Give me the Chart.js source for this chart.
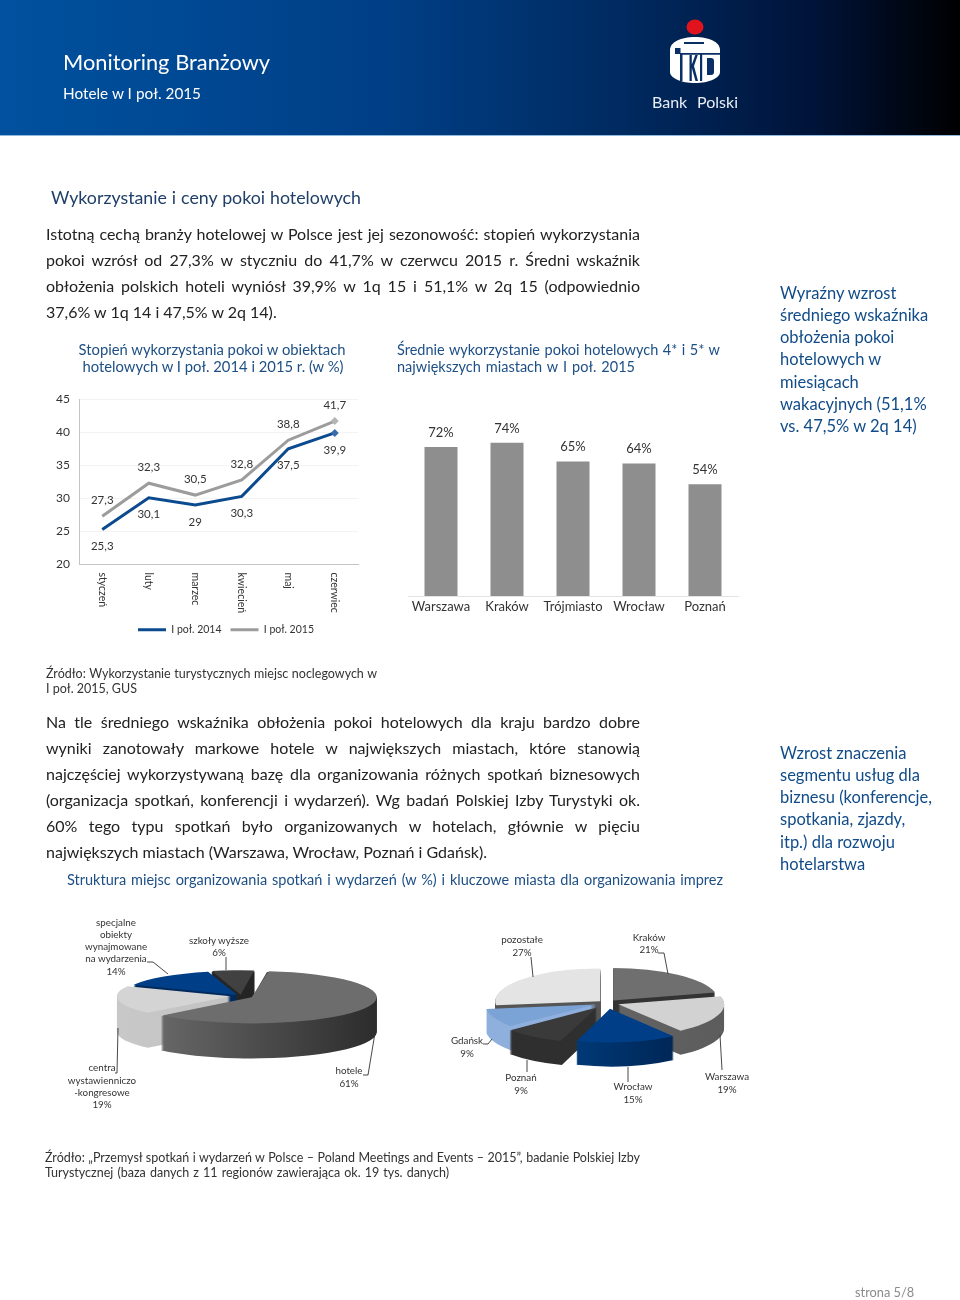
<!DOCTYPE html>
<html lang="pl">
<head>
<meta charset="utf-8">
<title>Monitoring Branżowy</title>
<script src="https://cdn.jsdelivr.net/npm/chart.js@4"></script>
<style>
html,body{margin:0;padding:0;background:#fff}
#page{position:relative;width:960px;height:1300px;overflow:hidden;font-family:Lato,sans-serif}
#head{position:absolute;left:0;top:0;width:960px;height:135px;background:linear-gradient(90deg,#00519f 0%,#003f86 40%,#002a60 65%,#001338 85%,#000 100%);border-bottom:1px solid #8fb8dc}
.t{position:absolute;white-space:nowrap;line-height:1;z-index:5}
.j{text-align-last:justify}
canvas{position:absolute;display:block}
#lines,#logo{position:absolute;left:0;top:0}
</style>
</head>
<body>
<div id="page">
  <div id="head"></div>
  <svg id="logo" width="960" height="135" viewBox="0 0 960 135">
    <ellipse cx="695" cy="27" rx="8.500" ry="7.500" fill="#e1141e"/>
    <path d="M670 50C670 42 681 37 695 37s25 5 25 13V72c0 6-11 11-25 11s-25-5-25-11Z" fill="#fff"/>
    <g fill="#0a2f66">
      <rect x="684" y="42" width="20" height="2"/>
      <path d="M675 48h5.500v5H720v1.800H682.500V81h-2.500V54h-5Z"/>
      <path d="M700 54h2.200v27H700Z"/>
      <path d="M689.500 55h2.300v9.500l3.500-9.500h2.500l-3.800 11 4 15h-2.500l-3.700-13v13h-2.300Z"/>
      <path d="M707 58h4c2 0 3 1 3 3v11c0 2-1 3-3 3h-4Z"/>
    </g>
  </svg>
  <svg id="lines" width="960" height="1300" viewBox="0 0 960 1300" style="z-index:4">
    <g fill="none" stroke="#333" stroke-width="0.9">
      <polyline points="147,962 153,962 168,974"/>
      <polyline points="226,957 226,970"/>
      <polyline points="118,1028 117,1073 115,1073"/>
      <polyline points="375,1033 368,1075 363,1075"/>
      <polyline points="658,953 664,953 668,974"/>
      <polyline points="531,957 533,977"/>
      <polyline points="720,1035 722,1070"/>
      <polyline points="628,1067 628,1082"/>
      <polyline points="527,1060 527,1072"/>
      <polyline points="483,1044 488,1044 492,1039"/>
    </g>
  </svg>
  <canvas id="lineChart" width="370" height="262" style="left:40px;top:383px"></canvas>
  <canvas id="barChart" width="350" height="240" style="left:398px;top:380px"></canvas>
  <canvas id="venuePie" width="400" height="400" style="left:41px;top:796px"></canvas>
  <canvas id="cityPie" width="400" height="400" style="left:407px;top:803px"></canvas>
</div>
<script>
// line chart data
var months = ["styczeń","luty","marzec","kwiecień","maj","czerwiec"];
var series2014 = [25.3,30.1,29,30.3,37.5,39.9];
var series2015 = [27.3,32.3,30.5,32.8,38.8,41.7];
var yTicks = [20,25,30,35,40,45];

// bar chart data
var cities = ["Warszawa","Kraków","Trójmiasto","Wrocław","Poznań"];
var cityOccupancy = [72,74,65,64,54];

// pies
var venues = ["hotele","centra wystawienniczo-kongresowe","specjalne obiekty","szkoły wyższe"];
var venueShare = [61,19,14,6];
var eventCities = ["Kraków","Warszawa","Wrocław","Poznań","Gdańsk","pozostałe"];
var eventShare = [21,19,15,9,9,27];

var BLUE = "#0b4a8e", GREY = "#9c9c9c", INK = "#333";
var FONT = "Lato, sans-serif";
var page = document.getElementById("page");

function txt(x, y, s, size, color, width, align) {
	var d = document.createElement("div");
	d.className = "t";
	d.textContent = s;
	d.style.fontSize = size + "px";
	d.style.color = color;
	d.style.top = (y - size / 2) + "px";
	if (align === "center") {
		d.style.left = (x - 250) + "px";
		d.style.width = "500px";
		d.style.textAlign = "center";
	} else {
		d.style.left = x + "px";
		if (width) { d.style.width = width + "px"; d.className = "t j"; }
	}
	page.appendChild(d);
}

// header
txt(63, 62, "Monitoring Branżowy", 21.8, "#fff", 207);
txt(63, 94, "Hotele w I poł. 2015", 15.3, "#fff", 138);
txt(652, 102, "Bank Polski", 16, "#e8eef6", 86);
txt(51, 198, "Wykorzystanie i ceny pokoi hotelowych", 17.8, "#1f3f68", 310);

// body text, one block per line because every line is justified
var block1 = [
	"Istotną cechą branży hotelowej w Polsce jest jej sezonowość: stopień wykorzystania",
	"pokoi wzrósł od 27,3% w styczniu do 41,7% w czerwcu 2015 r. Średni wskaźnik",
	"obłożenia polskich hoteli wyniósł 39,9% w 1q 15 i 51,1% w 2q 15 (odpowiednio"
];
block1.forEach(function(s, i){ txt(46, 234 + i * 26, s, 16, "#222", 594); });
txt(46, 312, "37,6% w 1q 14 i 47,5% w 2q 14).", 16, "#222", 226);

var block2 = [
	"Na tle średniego wskaźnika obłożenia pokoi hotelowych dla kraju bardzo dobre",
	"wyniki zanotowały markowe hotele w największych miastach, które stanowią",
	"najczęściej wykorzystywaną bazę dla organizowania różnych spotkań biznesowych",
	"(organizacja spotkań, konferencji i wydarzeń). Wg badań Polskiej Izby Turystyki ok.",
	"60% tego typu spotkań było organizowanych w hotelach, głównie w pięciu"
];
block2.forEach(function(s, i){ txt(46, 722 + i * 26, s, 16, "#222", 594); });
txt(46, 852, "największych miastach (Warszawa, Wrocław, Poznań i Gdańsk).", 16, "#222", 438);

// chart titles
txt(212, 349.500, "Stopień wykorzystania pokoi  w obiektach", 14.8, "#1d4f85", 0, "center");
txt(213, 366.500, "hotelowych  w I poł. 2014 i 2015 r. (w %)", 14.8, "#1d4f85", 0, "center");
txt(397, 350, "Średnie wykorzystanie pokoi hotelowych 4* i 5* w", 14.5, "#1d4f85", 323);
txt(397, 367, "największych miastach  w I poł. 2015", 14.5, "#1d4f85", 238);
txt(67, 880, "Struktura miejsc organizowania spotkań i wydarzeń (w %) i kluczowe miasta dla organizowania imprez", 14.5, "#1d4f85", 656);

// side notes
var note1 = ["Wyraźny wzrost","średniego wskaźnika","obłożenia pokoi","hotelowych w","miesiącach","wakacyjnych (51,1%","vs. 47,5% w 2q 14)"];
note1.forEach(function(s, i){ txt(780, 293 + i * 22.2, s, 16.5, "#114c88"); });
var note2 = ["Wzrost znaczenia","segmentu usług dla","biznesu (konferencje,","spotkania, zjazdy,","itp.) dla rozwoju","hotelarstwa"];
note2.forEach(function(s, i){ txt(780, 753 + i * 22.2, s, 16.5, "#114c88"); });

// sources and footer
txt(46, 674, "Źródło: Wykorzystanie turystycznych miejsc noclegowych w", 12.5, INK, 331);
txt(46, 689, "I poł. 2015, GUS", 12.5, INK, 89);
txt(45, 1158, "Źródło: „Przemysł spotkań i wydarzeń w Polsce – Poland Meetings and Events – 2015”, badanie Polskiej Izby", 12.5, INK, 595);
txt(45, 1173, "Turystycznej (baza danych z 11 regionów zawierająca ok. 19 tys. danych)", 12.5, INK, 404);
txt(855, 1292, "strona 5/8", 12.8, "#8a8a8a", 59);

// pie captions
[["specjalne",116,923],["obiekty",116,935],["wynajmowane",116,947],["na wydarzenia",116,959],["14%",116,972],
 ["szkoły wyższe",219,941],["6%",219,953],
 ["centra",102,1068],["wystawienniczo",102,1081],["-kongresowe",102,1093],["19%",102,1105],
 ["hotele",349,1071],["61%",349,1084],
 ["pozostałe",522,940],["27%",522,953],
 ["Kraków",649,938],["21%",649,950],
 ["Gdańsk",467,1041],["9%",467,1054],
 ["Poznań",521,1078],["9%",521,1091],
 ["Wrocław",633,1087],["15%",633,1100],
 ["Warszawa",727,1077],["19%",727,1090]
].forEach(function(c){ txt(c[1], c[2], c[0], 9.8, "#333", 0, "center"); });

// value labels above/below points, dataset.labelShift says how far
var valueLabels = {
	id: "valueLabels",
	afterDatasetsDraw: function(chart) {
		var ctx = chart.ctx;
		ctx.save();
		ctx.textAlign = "center";
		ctx.textBaseline = "middle";
		ctx.fillStyle = INK;
		chart.data.datasets.forEach(function(ds, i) {
			ctx.font = ds.labelFont;
			chart.getDatasetMeta(i).data.forEach(function(el, j) {
				ctx.fillText(ds.labelFormat(ds.data[j]), el.x, el.y + ds.labelShift);
			});
		});
		ctx.restore();
	}
};

// months read downwards here, the scale itself cannot anchor them at the start of the text
var downwardTicks = {
	id: "downwardTicks",
	afterDraw: function(chart) {
		var ctx = chart.ctx, sc = chart.scales.x;
		ctx.save();
		ctx.fillStyle = INK;
		ctx.font = "10.5px " + FONT;
		ctx.textBaseline = "middle";
		months.forEach(function(m, i) {
			ctx.save();
			ctx.translate(sc.getPixelForTick(i), sc.top + 8);
			ctx.rotate(Math.PI / 2);
			ctx.fillText(m, 0, 0);
			ctx.restore();
		});
		ctx.restore();
	}
};

// legend sits right of the centre of the plot
var legendShift = {
	id: "legendShift",
	afterUpdate: function(chart) {
		chart.legend.left += 27;
		chart.legend.right += 27;
	}
};

new Chart(document.getElementById("lineChart"), {
	type: "line",
	plugins: [valueLabels, downwardTicks, legendShift],
	data: {
		labels: months,
		datasets: [
			{label: "I poł. 2014", data: series2014, borderColor: BLUE, backgroundColor: BLUE, borderWidth: 3,
				tension: 0, pointStyle: "rectRot", pointRadius: [0,0,0,0,0,4], pointBackgroundColor: "#3a6ca8", pointBorderWidth: 0,
				labelShift: 17, labelFont: "11.5px " + FONT, labelFormat: function(v){ return String(v).replace(".", ","); }},
			{label: "I poł. 2015", data: series2015, borderColor: GREY, backgroundColor: GREY, borderWidth: 3,
				tension: 0, pointStyle: "rectRot", pointRadius: [0,0,0,0,0,4], pointBackgroundColor: "#b4b4b4", pointBorderWidth: 0,
				labelShift: -16, labelFont: "11.5px " + FONT, labelFormat: function(v){ return String(v).replace(".", ","); }}
		]
	},
	options: {
		responsive: false,
		animation: false,
		layout: {padding: {top: 14, right: 52, bottom: 0, left: 0}},
		plugins: {
			tooltip: {enabled: false},
			legend: {
				position: "bottom",
				labels: {
					boxWidth: 28, boxHeight: 3, padding: 9, color: INK, font: {family: FONT, size: 10.5},
					generateLabels: function(chart) {
						return chart.data.datasets.map(function(ds, i) {
							return {text: ds.label, fillStyle: ds.borderColor, lineWidth: 0, strokeStyle: ds.borderColor, datasetIndex: i, fontColor: INK};
						});
					}
				}
			}
		},
		scales: {
			x: {
				offset: true,
				grid: {display: false},
				border: {color: "#c4c4c4"},
				ticks: {display: false},
				afterFit: function(s){ s.height = 51; }
			},
			y: {
				min: 20, max: 45,
				afterBuildTicks: function(s){ s.ticks = yTicks.map(function(v){ return {value: v}; }); },
				grid: {color: "#f3f3f3", drawTicks: false},
				border: {color: "#c4c4c4"},
				ticks: {color: INK, padding: 9, font: {family: FONT, size: 12}},
				afterFit: function(s){ s.width = 39; }
			}
		}
	}
});

new Chart(document.getElementById("barChart"), {
	type: "bar",
	plugins: [valueLabels],
	data: {
		labels: cities,
		datasets: [{data: cityOccupancy, backgroundColor: "#8e8e8e", categoryPercentage: 1, barPercentage: 0.5,
			labelShift: -14.5, labelFont: "13px " + FONT, labelFormat: function(v){ return v + "%"; }}]
	},
	options: {
		responsive: false,
		animation: false,
		layout: {padding: {top: 9, right: 10, bottom: 0, left: 10}},
		plugins: {legend: {display: false}, tooltip: {enabled: false}},
		scales: {
			x: {
				grid: {display: false, drawTicks: false},
				border: {color: "#e4e4e4"},
				ticks: {color: INK, padding: 3, font: {family: FONT, size: 13}, maxRotation: 0},
				afterFit: function(s){ s.height = 24; }
			},
			y: {display: false, min: 0, max: 100}
		}
	}
});

// the "3D" look: squash the arcs around the pie centre and stack darker copies below them
var tilted = {
	id: "tilted",
	beforeDatasetsDraw: function(chart) {
		var ds = chart.data.datasets[0], ctx = chart.ctx;
		var arcs = chart.getDatasetMeta(0).data;
		var cx = arcs[0].x, cy = arcs[0].y, k = ds.squash;
		ctx.save();
		ctx.translate(cx, cy);
		ctx.scale(1, k);
		ctx.translate(-cx, -cy);
		var order = arcs.map(function(a, i){ return i; }).sort(function(p, q) {
			return Math.sin((arcs[p].startAngle + arcs[p].endAngle) / 2) - Math.sin((arcs[q].startAngle + arcs[q].endAngle) / 2);
		});
		order.forEach(function(i) {
			var a = arcs[i], mid = (a.startAngle + a.endAngle) / 2;
			var off = (a.options.offset || 0) / 4;
			var fix = 1 - Math.sin(Math.min(Math.PI, a.circumference));
			var r = a.outerRadius + off * fix;
			var ax = a.x + Math.cos(mid) * off, ay = a.y + Math.sin(mid) * off;
			var g = ctx.createLinearGradient(ax - r, 0, ax + r, 0);
			g.addColorStop(0, ds.sideFrom[i]);
			g.addColorStop(1, ds.sideTo[i]);
			ctx.fillStyle = g;
			for (var d = ds.depth; d > 0; d--) {
				var dy = d / k;
				ctx.beginPath();
				ctx.moveTo(ax, ay + dy);
				ctx.arc(ax, ay + dy, r, a.startAngle, a.endAngle);
				ctx.closePath();
				ctx.fill();
			}
		});
	},
	afterDatasetsDraw: function(chart) {
		chart.ctx.restore();
	}
};

function pie(id, labels, values, tops, sideFrom, sideTo, offsets, radius, rotation, squash, depth) {
	return new Chart(document.getElementById(id), {
		type: "pie",
		plugins: [tilted],
		data: {
			labels: labels,
			datasets: [{data: values, backgroundColor: tops, borderWidth: 0, offset: offsets, clip: false,
				sideFrom: sideFrom, sideTo: sideTo, squash: squash, depth: depth}]
		},
		options: {
			responsive: false,
			animation: false,
			radius: radius,
			rotation: rotation,
			plugins: {legend: {display: false}, tooltip: {enabled: false}}
		}
	});
}

pie("venuePie", venues, venueShare,
	["#6d6d6d","#d4d4d4","#003f87","#414141"],
	["#707070","#c8c8c8","#002a5c","#2a2a2a"],
	["#2c2c2c","#bdbdbd","#002a5c","#1f1f1f"],
	[48,42,24,24], 113, 7, 0.21, 35);

pie("cityPie", eventCities, eventShare,
	["#6f6f6f","#d2d2d2","#003f87","#3a3a3a","#7ba3d6","#e4e4e4"],
	["#333333","#6a6a6a","#00468f","#2f2f2f","#8fb0dd","#555555"],
	["#333333","#5c5c5c","#001f48","#2f2f2f","#8fb0dd","#555555"],
	[40,48,76,72,48,36], 105, 0, 0.31, 24);
</script>
</body>
</html>
